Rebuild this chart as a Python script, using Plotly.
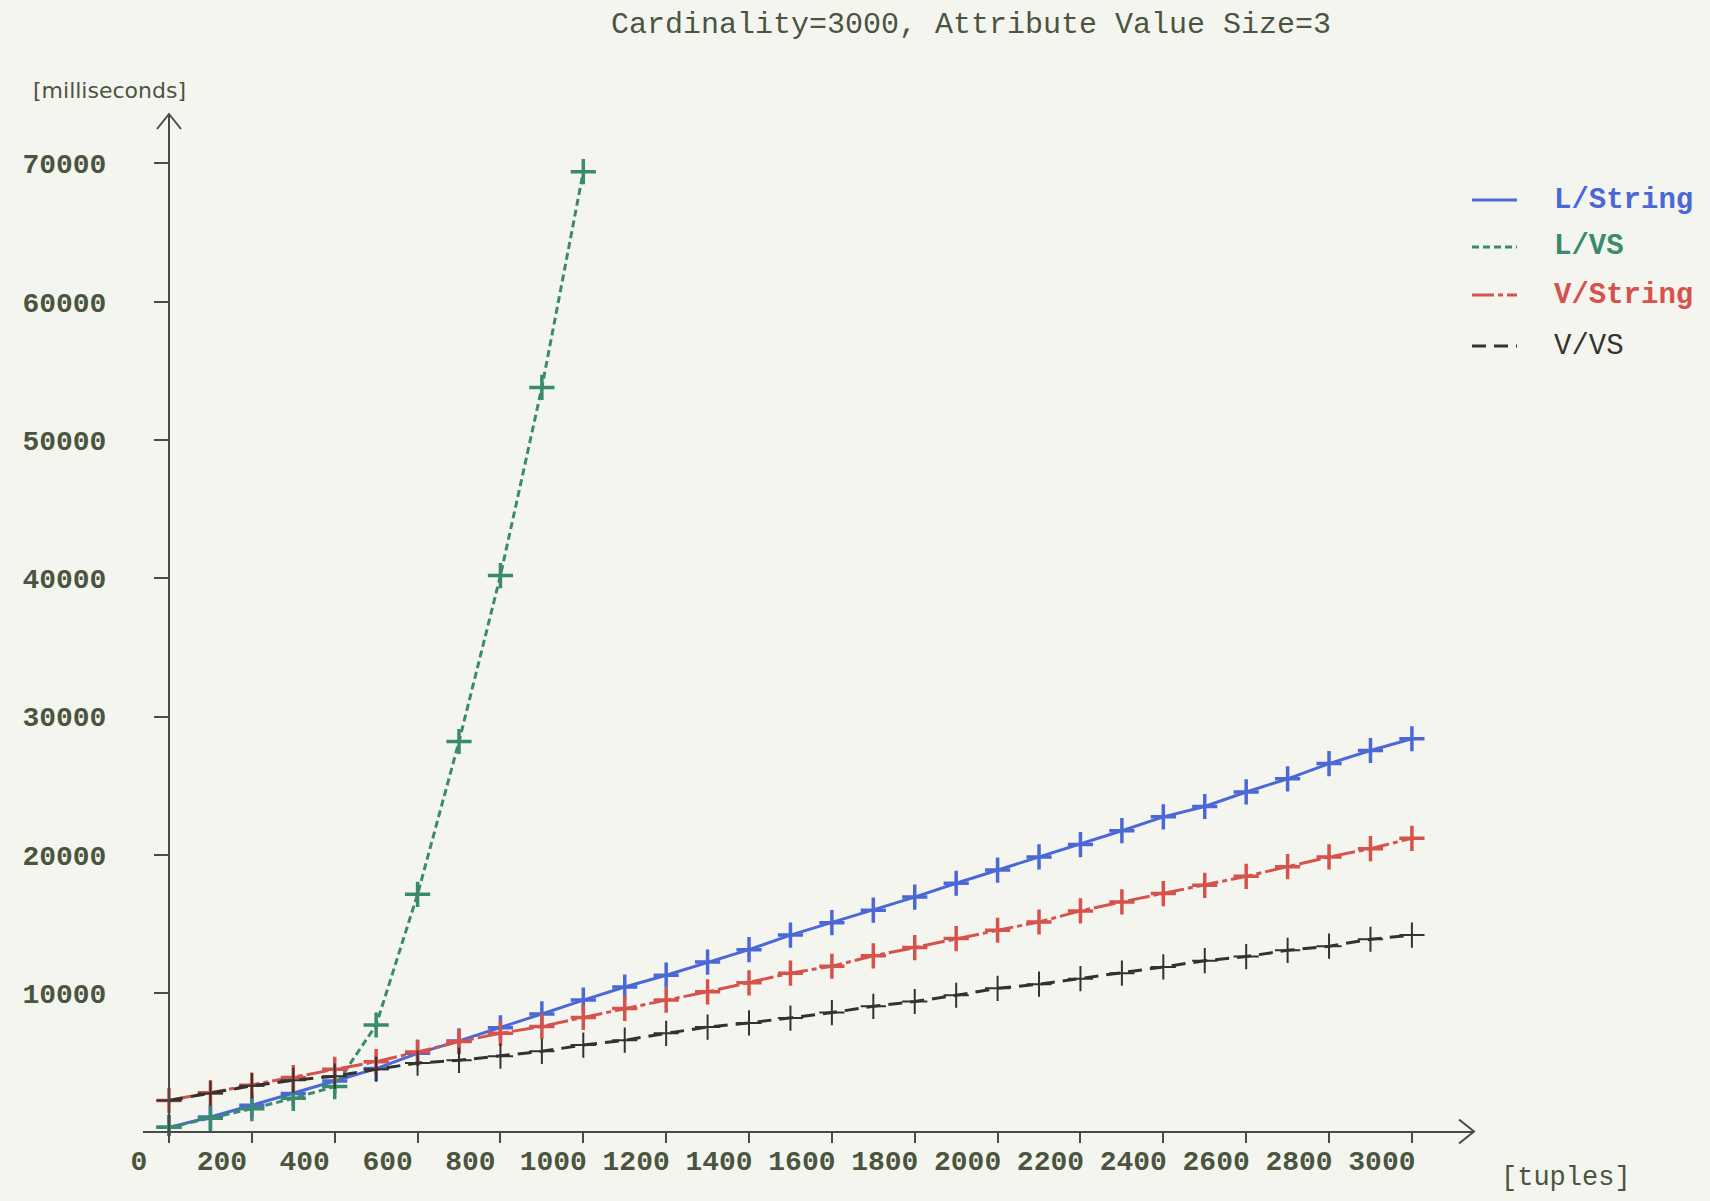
import plotly.graph_objects as go

# ---- data: response time [ms] vs. number of tuples ----
tuples = list(range(0, 3001, 100))

l_string = [300, 1050, 1900, 2750, 3650, 4550, 5650, 6550, 7500, 8500,
            9500, 10450, 11300, 12250, 13150, 14200, 15100, 16000, 16950, 17950,
            18900, 19850, 20750, 21750, 22750, 23500, 24550, 25500, 26600, 27550,
            28400]

l_vs_x = [0, 100, 200, 300, 400, 500, 600, 700, 800, 900, 1000]
l_vs = [300, 950, 1650, 2400, 3250, 7700, 17150, 28200, 40200, 53800, 69400]

v_string = [2250, 2800, 3350, 3900, 4500, 5050, 5750, 6500, 7100, 7600,
            8250, 8900, 9500, 10100, 10750, 11450, 11950, 12700, 13300, 13950,
            14550, 15150, 15950, 16600, 17200, 17800, 18450, 19150, 19850, 20450,
            21200]

v_vs = [2250, 2750, 3300, 3700, 4000, 4500, 4950, 5150, 5450, 5800,
        6250, 6600, 7100, 7550, 7850, 8200, 8600, 9050, 9400, 9850,
        10350, 10650, 11050, 11450, 11900, 12350, 12650, 13100, 13400, 13900,
        14200]

series_names = ["L/String", "L/VS", "V/String", "V/VS"]
x_ticks = list(range(0, 3001, 200))
y_ticks = list(range(10000, 70001, 10000))

# ---- look ----
W, H = 1710, 1201
PL, PR, PT, PB = 143, 1474, 114, 1136          # plotting area in pixels
X0_PX, X_PX_PER = 169.0, 0.4143                # x = 0 position and px per tuple
Y0_PX, Y_PX_PER = 1131.5, 0.01383              # y = 0 position and px per ms

x_range = [(PL - X0_PX) / X_PX_PER, (PR - X0_PX) / X_PX_PER]
y_range = [(Y0_PX - PB) / Y_PX_PER, (Y0_PX - PT) / Y_PX_PER]
x_axis_pos = (PB - Y0_PX) / (PB - PT)
y_axis_pos = (X0_PX - PL) / (PR - PL)

BG = "#f5f5f0"
AXIS = "#4a4a48"
TEXT = "#4a5540"
MONO = "Liberation Mono, DejaVu Sans Mono, monospace"

colors = ["#4a68d6", "#3a8a6e", "#d6524c", "#33332e"]
dashes = ["solid", "7px,4px", "22px,4px,5px,4px", "14px,8px"]
marker_w = [3.5, 3.5, 3.5, 2]


def px_x(p):
    return (p - PL) / (PR - PL)


def px_y(p):
    return (PB - p) / (PB - PT)


fig = go.Figure()

xs = [tuples, l_vs_x, tuples, tuples]
ys = [l_string, l_vs, v_string, v_vs]
for name, x, y, c, d, mw in zip(series_names, xs, ys, colors, dashes, marker_w):
    fig.add_trace(go.Scatter(
        x=x, y=y, name=name, mode="lines+markers",
        line=dict(color=c, width=3, dash=d),
        marker=dict(symbol="cross-thin", size=18, line=dict(color=c, width=mw)),
        showlegend=False,
    ))

axis_common = dict(showgrid=False, zeroline=False, automargin=False, fixedrange=True)
tick_font = dict(family=MONO, size=28, color=TEXT, weight="bold")

fig.update_layout(
    width=W, height=H,
    margin=dict(l=PL, r=W - PR, t=PT, b=H - PB, pad=0),
    paper_bgcolor=BG, plot_bgcolor=BG,
    template="none",
    showlegend=False,
    xaxis=dict(
        range=x_range, anchor="free", position=x_axis_pos,
        showline=True, linecolor=AXIS, linewidth=2,
        ticks="outside", ticklen=10, tickwidth=2, tickcolor=AXIS,
        tickvals=x_ticks, ticktext=[str(v) for v in x_ticks],
        tickfont=tick_font,
        ticklabelshift=-30, ticklabelstandoff=-6,
        **axis_common,
    ),
    xaxis2=dict(
        range=x_range, overlaying="x", anchor="free", position=x_axis_pos,
        showline=False, ticks="inside", ticklen=12, tickwidth=2, tickcolor=AXIS,
        tickvals=x_ticks, showticklabels=False,
        **axis_common,
    ),
    yaxis=dict(
        range=y_range, anchor="free", position=y_axis_pos,
        showline=True, linecolor=AXIS, linewidth=2,
        ticks="outside", ticklen=14, tickwidth=2, tickcolor=AXIS,
        tickvals=y_ticks, ticktext=[str(v) for v in y_ticks],
        tickfont=tick_font,
        ticklabelstandoff=42,
        **axis_common,
    ),
    yaxis2=dict(
        range=y_range, overlaying="y", anchor="free", position=y_axis_pos,
        showline=False, ticks="inside", ticklen=14, tickwidth=2, tickcolor=AXIS,
        tickvals=y_ticks, showticklabels=False,
        **axis_common,
    ),
)

# open arrowheads at the ends of both axes
fig.add_shape(type="path", xref="paper", yref="paper",
              xsizemode="pixel", ysizemode="pixel",
              xanchor=1, yanchor=x_axis_pos,
              path="M -15 -12 L 0 0 L -15 12",
              line=dict(color=AXIS, width=2))
fig.add_shape(type="path", xref="paper", yref="paper",
              xsizemode="pixel", ysizemode="pixel",
              xanchor=y_axis_pos, yanchor=1,
              path="M -12 -15 L 0 0 L 12 -15",
              line=dict(color=AXIS, width=2))

# title and axis units
fig.add_annotation(text="Cardinality=3000, Attribute Value Size=3",
                   xref="paper", yref="paper", x=px_x(971), y=px_y(25),
                   xanchor="center", yanchor="middle", showarrow=False,
                   font=dict(family=MONO, size=30, color=TEXT))
fig.add_annotation(text="[milliseconds]",
                   xref="paper", yref="paper", x=px_x(31), y=px_y(91),
                   xanchor="left", yanchor="middle", showarrow=False,
                   font=dict(family="DejaVu Sans, sans-serif", size=22, color=TEXT))
fig.add_annotation(text="[tuples]",
                   xref="paper", yref="paper", x=px_x(1499), y=px_y(1178),
                   xanchor="left", yanchor="middle", showarrow=False,
                   font=dict(family=MONO, size=27, color=TEXT))

# legend: line sample + coloured label
legend_rows = [200, 247, 295, 346]
legend_bold = [True, True, True, False]
for name, c, d, row, bold in zip(series_names, colors, dashes, legend_rows, legend_bold):
    fig.add_shape(type="line", xref="paper", yref="paper",
                  x0=px_x(1472), x1=px_x(1517), y0=px_y(row), y1=px_y(row),
                  line=dict(color=c, width=3, dash=d))
    fig.add_annotation(text=f"<b>{name}</b>" if bold else name,
                       xref="paper", yref="paper", x=px_x(1552), y=px_y(row),
                       xanchor="left", yanchor="middle", showarrow=False,
                       font=dict(family=MONO, size=29, color=c))

fig.write_html("out.html")
